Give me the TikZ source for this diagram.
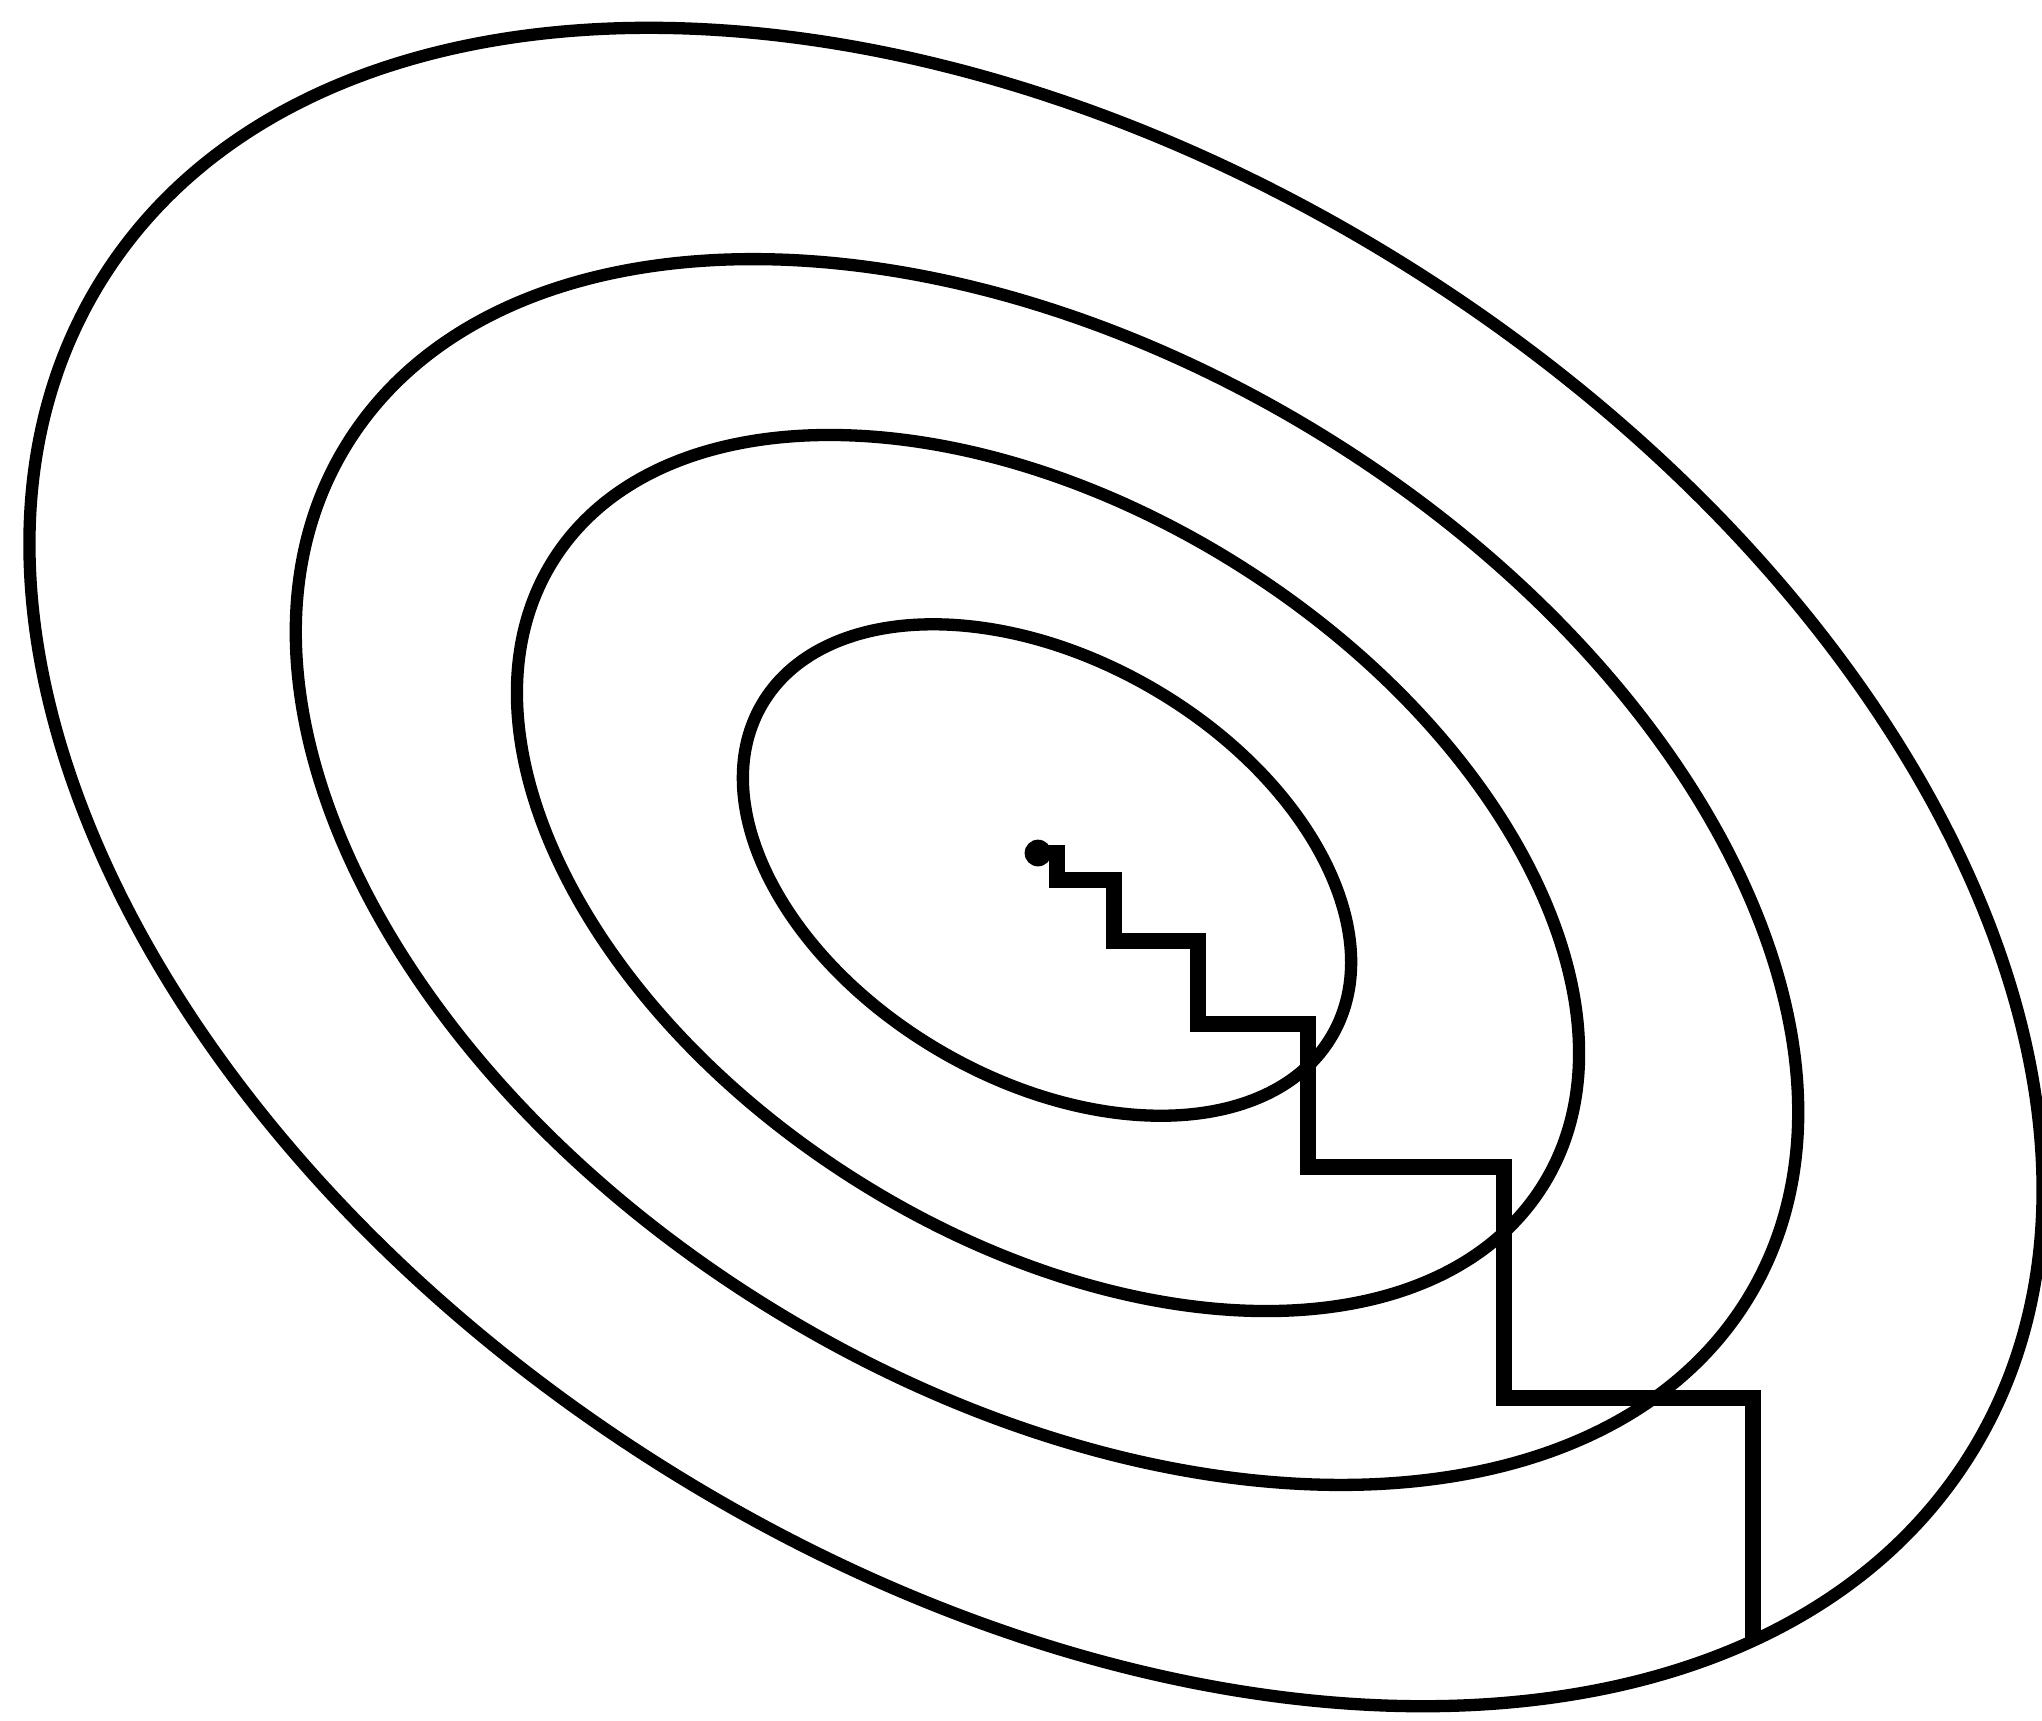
\documentclass[tikz,border=0pt]{standalone}
\usetikzlibrary{calc}
\tikzset{
  contour line/.style={draw=black,line width=3.5pt},
  descent path/.style={draw=black,line width=4.8pt,line join=miter},
  start dot/.style={fill=black}
}
\begin{document}
\begin{tikzpicture}[x=0.01cm,y=-0.01cm]
  \useasboundingbox (0,0) rectangle (2042,1720);
  % level sets: centre x/y, half axes, tilt
  \foreach \cx/\cy/\ra/\rb/\tilt in {1036/867/11.03/7.06/32.3,
      1047/872/8.20/5.16/31.2, 1048/873/5.85/3.62/32.4, 1047/870/3.295/2.10/30.1}
    \draw[contour line,rotate around={-\tilt:(\cx,\cy)}]
      (\cx,\cy) ellipse [x radius=\ra cm,y radius=\rb cm];
  % coordinate-wise steps
  \coordinate (start) at (1038,853);
  \coordinate (finish) at (1753,1644);
  \fill[start dot] (start) circle (3.8pt);
  \draw[descent path] (start) -- (1057,853) -- (1057,880) -- (1114,880)
    -- (1114,941) -- (1198,941) -- (1198,1024) -- (1308,1024) -- (1308,1167)
    -- (1504,1167) -- (1504,1398) -- (1753,1398) -- (finish);
\end{tikzpicture}
\end{document}
